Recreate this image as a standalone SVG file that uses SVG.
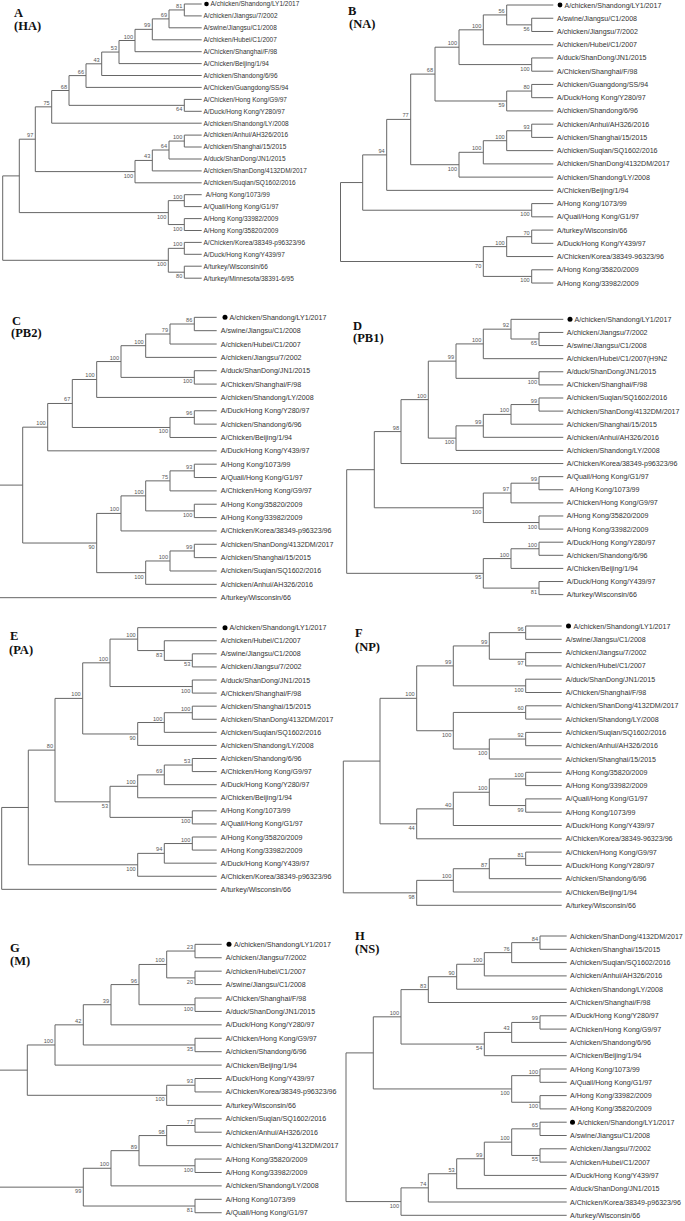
<svg xmlns="http://www.w3.org/2000/svg" width="685" height="1221" viewBox="0 0 685 1221">
<style>
.e path{fill:none;stroke:#666;stroke-width:1}
.t{font-family:"Liberation Sans",Arial,sans-serif;font-size:7.1px;fill:#333}
.ta{font-family:"Liberation Sans",Arial,sans-serif;font-size:6.5px;fill:#333}
.b{font-family:"Liberation Sans",Arial,sans-serif;font-size:5.6px;fill:#555;text-anchor:end}
.p{font-family:"Liberation Serif","Times New Roman",serif;font-weight:bold;font-size:12.5px;fill:#111}
.dot{fill:#000}
</style>
<defs>
<clipPath id="clipE"><rect x="0" y="700" width="333.5" height="40"/></clipPath>
</defs>
<rect width="685" height="1221" fill="#fff"/>

<!-- Panel A -->
<g id="panel-A">
<text class="p" x="14" y="17">A</text><text class="p" x="14" y="30">(HA)</text>
<g id="A-edges" class="e">
<path d="M201.7 4 H184.3 V15.9 H201.7"/>
<path d="M184.3 9.95 H169 V27.8 H201.7"/>
<path d="M169 18.9 H152.3 V39.8 H201.7"/>
<path d="M152.3 29.35 H135 V51.7 H201.7"/>
<path d="M135 40.5 H119 V63.6 H201.7"/>
<path d="M119 52.05 H101.7 V75.5 H201.7"/>
<path d="M101.7 63.8 H86 V87.4 H201.7"/>
<path d="M201.7 99.4 H184.3 V111.3 H201.7"/>
<path d="M86 75.6 H69 V105.35 H184.3"/>
<path d="M69 90.5 H51.7 V123.2 H201.7"/>
<path d="M201.7 135.1 H184.3 V147 H201.7"/>
<path d="M184.3 141.05 H169 V159 H201.7"/>
<path d="M169 150 H152.3 V170.9 H201.7"/>
<path d="M152.3 160.45 H135 V182.8 H201.7"/>
<path d="M51.7 106.85 H35.3 V171.6 H135"/>
<path d="M201.7 194.7 H184.3 V206.6 H201.7"/>
<path d="M201.7 218.6 H184.3 V230.5 H201.7"/>
<path d="M184.3 200.65 H168.3 V224.55 H184.3"/>
<path d="M35.3 139.2 H19.3 V212.6 H168.3"/>
<path d="M201.7 242.4 H184.3 V254.3 H201.7"/>
<path d="M201.7 266.2 H184.3 V278.2 H201.7"/>
<path d="M184.3 248.35 H168.3 V272.2 H184.3"/>
<path d="M19.3 175.9 H2.7 V260.3 H168.3"/>
</g>
<g id="A-support">
<text class="b" x="182.3" y="7.95">81</text>
<text class="b" x="167" y="16.9">69</text>
<text class="b" x="150.3" y="27.35">99</text>
<text class="b" x="133" y="38.5">100</text>
<text class="b" x="117" y="50.05">53</text>
<text class="b" x="99.7" y="61.8">43</text>
<text class="b" x="84" y="73.6">66</text>
<text class="b" x="182.3" y="111.35">64</text>
<text class="b" x="67" y="88.5">68</text>
<text class="b" x="49.7" y="104.85">75</text>
<text class="b" x="182.3" y="139.05">100</text>
<text class="b" x="167" y="148">64</text>
<text class="b" x="150.3" y="158.45">43</text>
<text class="b" x="133" y="177.6">100</text>
<text class="b" x="33.3" y="137.2">97</text>
<text class="b" x="182.3" y="198.65">100</text>
<text class="b" x="182.3" y="230.55">100</text>
<text class="b" x="166.3" y="218.6">100</text>
<text class="b" x="182.3" y="246.35">100</text>
<text class="b" x="182.3" y="278.2">80</text>
<text class="b" x="166.3" y="266.3">100</text>
</g>
<g id="A-leaves">
<circle class="dot" cx="206.5" cy="4" r="2.3"/>
<text id="A-leaf-0" class="ta" x="210.5" y="6.3">A/chicken/Shandong/LY1/2017</text>
<text id="A-leaf-1" class="ta" x="203.5" y="18.2">A/chicken/Jiangsu/7/2002</text>
<text id="A-leaf-2" class="ta" x="203.5" y="30.1">A/swine/Jiangsu/C1/2008</text>
<text id="A-leaf-3" class="ta" x="203.5" y="42.1">A/chicken/Hubei/C1/2007</text>
<text id="A-leaf-4" class="ta" x="203.5" y="54">A/Chicken/Shanghai/F/98</text>
<text id="A-leaf-5" class="ta" x="203.5" y="65.9">A/Chicken/Beijing/1/94</text>
<text id="A-leaf-6" class="ta" x="203.5" y="77.8">A/chicken/Shandong/6/96</text>
<text id="A-leaf-7" class="ta" x="203.5" y="89.7">A/Chicken/Guangdong/SS/94</text>
<text id="A-leaf-8" class="ta" x="203.5" y="101.7">A/Chicken/Hong Kong/G9/97</text>
<text id="A-leaf-9" class="ta" x="203.5" y="113.6">A/Duck/Hong Kong/Y280/97</text>
<text id="A-leaf-10" class="ta" x="203.5" y="125.5">A/chicken/Shandong/LY/2008</text>
<text id="A-leaf-11" class="ta" x="203.5" y="137.4">A/chicken/Anhui/AH326/2016</text>
<text id="A-leaf-12" class="ta" x="203.5" y="149.3">A/chicken/Shanghai/15/2015</text>
<text id="A-leaf-13" class="ta" x="203.5" y="161.3">A/duck/ShanDong/JN1/2015</text>
<text id="A-leaf-14" class="ta" x="203.5" y="173.2">A/chicken/ShanDong/4132DM/2017</text>
<text id="A-leaf-15" class="ta" x="203.5" y="185.1">A/chicken/Suqian/SQ1602/2016</text>
<text id="A-leaf-16" class="ta" x="205.8" y="197">A/Hong Kong/1073/99</text>
<text id="A-leaf-17" class="ta" x="203.5" y="208.9">A/Quail/Hong Kong/G1/97</text>
<text id="A-leaf-18" class="ta" x="203.5" y="220.9">A/Hong Kong/33982/2009</text>
<text id="A-leaf-19" class="ta" x="203.5" y="232.8">A/Hong Kong/35820/2009</text>
<text id="A-leaf-20" class="ta" x="203.5" y="244.7">A/Chicken/Korea/38349-p96323/96</text>
<text id="A-leaf-21" class="ta" x="203.5" y="256.6">A/Duck/Hong Kong/Y439/97</text>
<text id="A-leaf-22" class="ta" x="203.5" y="268.5">A/turkey/Wisconsin/66</text>
<text id="A-leaf-23" class="ta" x="203.5" y="280.5">A/turkey/Minnesota/38391-6/95</text>
</g>
</g>

<!-- Panel B -->
<g id="panel-B">
<text class="p" x="348" y="15">B</text><text class="p" x="349" y="27.5">(NA)</text>
<g id="B-edges" class="e">
<path d="M553.3 18.24 H531.7 V31.48 H553.3"/>
<path d="M553.3 5 H506.7 V24.86 H531.7"/>
<path d="M506.7 14.93 H483.3 V44.72 H553.3"/>
<path d="M553.3 57.96 H531.7 V71.2 H553.3"/>
<path d="M483.3 29.83 H459 V64.58 H531.7"/>
<path d="M553.3 84.44 H531.7 V97.68 H553.3"/>
<path d="M531.7 91.06 H506.7 V110.92 H553.3"/>
<path d="M459 47.2 H435 V100.99 H506.7"/>
<path d="M553.3 124.16 H531.7 V137.4 H553.3"/>
<path d="M531.7 130.78 H506.7 V150.64 H553.3"/>
<path d="M506.7 140.71 H483.3 V163.88 H553.3"/>
<path d="M483.3 152.3 H459 V177.12 H553.3"/>
<path d="M435 74.1 H410.7 V164.71 H459"/>
<path d="M410.7 119.4 H386.7 V190.36 H553.3"/>
<path d="M553.3 203.6 H531.7 V216.84 H553.3"/>
<path d="M386.7 154.88 H362.7 V210.22 H531.7"/>
<path d="M553.3 230.08 H531.7 V243.32 H553.3"/>
<path d="M531.7 236.7 H506.7 V256.56 H553.3"/>
<path d="M553.3 269.8 H531.7 V283.04 H553.3"/>
<path d="M506.7 246.63 H483.3 V276.42 H531.7"/>
<path d="M362.7 182.55 H340.5 V261.5 H483.3"/>
</g>
<g id="B-support">
<text class="b" x="504.7" y="12.93">56</text>
<text class="b" x="529.7" y="30.86">56</text>
<text class="b" x="481.3" y="27.83">100</text>
<text class="b" x="529.7" y="70.58">100</text>
<text class="b" x="457" y="45.2">100</text>
<text class="b" x="529.7" y="89.06">80</text>
<text class="b" x="504.7" y="106.99">59</text>
<text class="b" x="433" y="72.1">68</text>
<text class="b" x="529.7" y="128.78">93</text>
<text class="b" x="504.7" y="138.71">100</text>
<text class="b" x="481.3" y="150.3">100</text>
<text class="b" x="457" y="170.71">100</text>
<text class="b" x="408.7" y="117.4">77</text>
<text class="b" x="384.7" y="152.88">94</text>
<text class="b" x="529.7" y="216.22">100</text>
<text class="b" x="529.7" y="234.7">70</text>
<text class="b" x="504.7" y="244.63">100</text>
<text class="b" x="529.7" y="282.42">100</text>
<text class="b" x="481.3" y="267.5">70</text>
</g>
<g id="B-leaves">
<circle class="dot" cx="560" cy="5" r="2.4"/>
<text id="B-leaf-0" class="t" x="564.5" y="7.5">A/chicken/Shandong/LY1/2017</text>
<text id="B-leaf-1" class="t" x="557" y="20.74">A/swine/Jiangsu/C1/2008</text>
<text id="B-leaf-2" class="t" x="557" y="33.98">A/chicken/Jiangsu/7/2002</text>
<text id="B-leaf-3" class="t" x="557" y="47.22">A/chicken/Hubei/C1/2007</text>
<text id="B-leaf-4" class="t" x="557" y="60.46">A/duck/ShanDong/JN1/2015</text>
<text id="B-leaf-5" class="t" x="557" y="73.7">A/Chicken/Shanghai/F/98</text>
<text id="B-leaf-6" class="t" x="557" y="86.94">A/chicken/Guangdong/SS/94</text>
<text id="B-leaf-7" class="t" x="557" y="100.18">A/Duck/Hong Kong/Y280/97</text>
<text id="B-leaf-8" class="t" x="557" y="113.42">A/chicken/Shandong/6/96</text>
<text id="B-leaf-9" class="t" x="557" y="126.66">A/chicken/Anhui/AH326/2016</text>
<text id="B-leaf-10" class="t" x="557" y="139.9">A/chicken/Shanghai/15/2015</text>
<text id="B-leaf-11" class="t" x="557" y="153.14">A/chicken/Suqian/SQ1602/2016</text>
<text id="B-leaf-12" class="t" x="557" y="166.38">A/chicken/ShanDong/4132DM/2017</text>
<text id="B-leaf-13" class="t" x="557" y="179.62">A/chicken/Shandong/LY/2008</text>
<text id="B-leaf-14" class="t" x="557" y="192.86">A/Chicken/Beijing/1/94</text>
<text id="B-leaf-15" class="t" x="557" y="206.1">A/Hong Kong/1073/99</text>
<text id="B-leaf-16" class="t" x="557" y="219.34">A/Quail/Hong Kong/G1/97</text>
<text id="B-leaf-17" class="t" x="557" y="232.58">A/turkey/Wisconsin/66</text>
<text id="B-leaf-18" class="t" x="557" y="245.82">A/Duck/Hong Kong/Y439/97</text>
<text id="B-leaf-19" class="t" x="557" y="259.06">A/Chicken/Korea/38349-96323/96</text>
<text id="B-leaf-20" class="t" x="557" y="272.3">A/Hong Kong/35820/2009</text>
<text id="B-leaf-21" class="t" x="557" y="285.54">A/Hong Kong/33982/2009</text>
</g>
</g>

<!-- Panel C -->
<g id="panel-C">
<text class="p" x="12" y="325">C</text><text class="p" x="11" y="337">(PB2)</text>
<g id="C-edges" class="e">
<path d="M216.7 317.33 H194.3 V330.68 H216.7"/>
<path d="M194.3 324 H170 V344.03 H216.7"/>
<path d="M170 334.02 H145.7 V357.38 H216.7"/>
<path d="M216.7 370.73 H194.3 V384.08 H216.7"/>
<path d="M145.7 345.7 H121 V377.4 H194.3"/>
<path d="M121 361.55 H96.7 V397.43 H216.7"/>
<path d="M216.7 410.78 H194.3 V424.13 H216.7"/>
<path d="M194.3 417.45 H170 V437.48 H216.7"/>
<path d="M96.7 379.49 H72.3 V427.47 H170"/>
<path d="M72.3 403.48 H47.7 V450.83 H216.7"/>
<path d="M216.7 464.18 H194.3 V477.53 H216.7"/>
<path d="M194.3 470.86 H170 V490.88 H216.7"/>
<path d="M216.7 504.23 H194.3 V517.58 H216.7"/>
<path d="M170 480.87 H145.7 V510.9 H194.3"/>
<path d="M145.7 495.89 H121 V530.93 H216.7"/>
<path d="M216.7 544.28 H194.3 V557.63 H216.7"/>
<path d="M194.3 550.96 H170 V570.98 H216.7"/>
<path d="M170 560.97 H145.7 V584.33 H216.7"/>
<path d="M121 513.41 H96.7 V572.65 H145.7"/>
<path d="M47.7 427.16 H22.7 V543.03 H96.7"/>
<path d="M22.7 485.1 H0"/>
<path d="M0 597.68 H216.7"/>
</g>
<g id="C-support">
<text class="b" x="192.3" y="322">86</text>
<text class="b" x="168" y="332.02">79</text>
<text class="b" x="143.7" y="343.7">100</text>
<text class="b" x="192.3" y="383.4">100</text>
<text class="b" x="119" y="359.55">100</text>
<text class="b" x="94.7" y="377.49">100</text>
<text class="b" x="192.3" y="415.45">96</text>
<text class="b" x="168" y="433.47">100</text>
<text class="b" x="70.3" y="401.48">67</text>
<text class="b" x="45.7" y="425.16">100</text>
<text class="b" x="192.3" y="468.86">93</text>
<text class="b" x="168" y="478.87">75</text>
<text class="b" x="192.3" y="516.9">100</text>
<text class="b" x="143.7" y="493.89">100</text>
<text class="b" x="119" y="511.41">100</text>
<text class="b" x="192.3" y="548.96">99</text>
<text class="b" x="168" y="558.97">100</text>
<text class="b" x="143.7" y="578.65">100</text>
<text class="b" x="94.7" y="549.03">90</text>
</g>
<g id="C-leaves">
<circle class="dot" cx="225" cy="317.33" r="2.5"/>
<text id="C-leaf-0" class="t" x="229.5" y="319.83">A/chicken/Shandong/LY1/2017</text>
<text id="C-leaf-1" class="t" x="220.7" y="333.18">A/swine/Jiangsu/C1/2008</text>
<text id="C-leaf-2" class="t" x="220.7" y="346.53">A/chicken/Hubei/C1/2007</text>
<text id="C-leaf-3" class="t" x="220.7" y="359.88">A/chicken/Jiangsu/7/2002</text>
<text id="C-leaf-4" class="t" x="220.7" y="373.23">A/duck/ShanDong/JN1/2015</text>
<text id="C-leaf-5" class="t" x="220.7" y="386.58">A/Chicken/Shanghai/F/98</text>
<text id="C-leaf-6" class="t" x="220.7" y="399.93">A/chicken/Shandong/LY/2008</text>
<text id="C-leaf-7" class="t" x="220.7" y="413.28">A/Duck/Hong Kong/Y280/97</text>
<text id="C-leaf-8" class="t" x="220.7" y="426.63">A/chicken/Shandong/6/96</text>
<text id="C-leaf-9" class="t" x="220.7" y="439.98">A/Chicken/Beijing/1/94</text>
<text id="C-leaf-10" class="t" x="220.7" y="453.33">A/Duck/Hong Kong/Y439/97</text>
<text id="C-leaf-11" class="t" x="220.7" y="466.68">A/Hong Kong/1073/99</text>
<text id="C-leaf-12" class="t" x="220.7" y="480.03">A/Quail/Hong Kong/G1/97</text>
<text id="C-leaf-13" class="t" x="220.7" y="493.38">A/Chicken/Hong Kong/G9/97</text>
<text id="C-leaf-14" class="t" x="220.7" y="506.73">A/Hong Kong/35820/2009</text>
<text id="C-leaf-15" class="t" x="220.7" y="520.08">A/Hong Kong/33982/2009</text>
<text id="C-leaf-16" class="t" x="220.7" y="533.43">A/Chicken/Korea/38349-p96323/96</text>
<text id="C-leaf-17" class="t" x="220.7" y="546.78">A/chicken/ShanDong/4132DM/2017</text>
<text id="C-leaf-18" class="t" x="220.7" y="560.13">A/chicken/Shanghai/15/2015</text>
<text id="C-leaf-19" class="t" x="220.7" y="573.48">A/chicken/Suqian/SQ1602/2016</text>
<text id="C-leaf-20" class="t" x="220.7" y="586.83">A/chicken/Anhui/AH326/2016</text>
<text id="C-leaf-21" class="t" x="220.7" y="600.18">A/turkey/Wisconsin/66</text>
</g>
</g>

<!-- Panel D -->
<g id="panel-D">
<text class="p" x="353" y="330">D</text><text class="p" x="353" y="342">(PB1)</text>
<g id="D-edges" class="e">
<path d="M563.3 332.44 H539 V345.55 H563.3"/>
<path d="M563.3 319.33 H511 V339 H539"/>
<path d="M511 329.17 H483.3 V358.66 H563.3"/>
<path d="M563.3 371.77 H539 V384.88 H563.3"/>
<path d="M483.3 343.92 H456 V378.33 H539"/>
<path d="M563.3 397.99 H539 V411.1 H563.3"/>
<path d="M539 404.55 H511 V424.21 H563.3"/>
<path d="M511 414.38 H483.3 V437.32 H563.3"/>
<path d="M483.3 425.85 H456 V450.43 H563.3"/>
<path d="M456 361.13 H428.3 V438.14 H456"/>
<path d="M428.3 399.64 H401 V463.54 H563.3"/>
<path d="M563.3 476.65 H539 V489.76 H563.3"/>
<path d="M539 483.2 H511 V502.87 H563.3"/>
<path d="M563.3 515.98 H539 V529.09 H563.3"/>
<path d="M511 493.04 H483.3 V522.54 H539"/>
<path d="M401 431.59 H374.3 V507.79 H483.3"/>
<path d="M563.3 542.2 H539 V555.31 H563.3"/>
<path d="M539 548.76 H511 V568.42 H563.3"/>
<path d="M563.3 581.53 H539 V594.64 H563.3"/>
<path d="M511 558.59 H483.3 V588.09 H539"/>
<path d="M374.3 469.69 H346.7 V573.34 H483.3"/>
</g>
<g id="D-support">
<text class="b" x="537" y="345">65</text>
<text class="b" x="509" y="327.17">92</text>
<text class="b" x="481.3" y="341.92">100</text>
<text class="b" x="537" y="384.33">100</text>
<text class="b" x="454" y="359.13">99</text>
<text class="b" x="537" y="402.55">99</text>
<text class="b" x="509" y="412.38">100</text>
<text class="b" x="481.3" y="423.85">99</text>
<text class="b" x="454" y="444.14">100</text>
<text class="b" x="426.3" y="397.64">100</text>
<text class="b" x="399" y="429.59">98</text>
<text class="b" x="537" y="481.2">99</text>
<text class="b" x="509" y="491.04">97</text>
<text class="b" x="537" y="528.54">100</text>
<text class="b" x="481.3" y="513.79">100</text>
<text class="b" x="537" y="546.76">100</text>
<text class="b" x="509" y="556.59">100</text>
<text class="b" x="537" y="594.09">81</text>
<text class="b" x="481.3" y="579.34">95</text>
</g>
<g id="D-leaves">
<circle class="dot" cx="570" cy="319.33" r="2.5"/>
<text id="D-leaf-0" class="t" x="574.5" y="321.83">A/chicken/Shandong/LY1/2017</text>
<text id="D-leaf-1" class="t" x="566.7" y="334.94">A/chicken/Jiangsu/7/2002</text>
<text id="D-leaf-2" class="t" x="566.7" y="348.05">A/swine/Jiangsu/C1/2008</text>
<text id="D-leaf-3" class="t" x="566.7" y="361.16">A/chicken/Hubei/C1/2007(H9N2</text>
<text id="D-leaf-4" class="t" x="566.7" y="374.27">A/duck/ShanDong/JN1/2015</text>
<text id="D-leaf-5" class="t" x="566.7" y="387.38">A/Chicken/Shanghai/F/98</text>
<text id="D-leaf-6" class="t" x="566.7" y="400.49">A/chicken/Suqian/SQ1602/2016</text>
<text id="D-leaf-7" class="t" x="566.7" y="413.6">A/chicken/ShanDong/4132DM/2017</text>
<text id="D-leaf-8" class="t" x="566.7" y="426.71">A/chicken/Shanghai/15/2015</text>
<text id="D-leaf-9" class="t" x="566.7" y="439.82">A/chicken/Anhui/AH326/2016</text>
<text id="D-leaf-10" class="t" x="566.7" y="452.93">A/chicken/Shandong/LY/2008</text>
<text id="D-leaf-11" class="t" x="566.7" y="466.04">A/Chicken/Korea/38349-p96323/96</text>
<text id="D-leaf-12" class="t" x="566.7" y="479.15">A/Quail/Hong Kong/G1/97</text>
<text id="D-leaf-13" class="t" x="569.7" y="492.26">A/Hong Kong/1073/99</text>
<text id="D-leaf-14" class="t" x="566.7" y="505.37">A/Chicken/Hong Kong/G9/97</text>
<text id="D-leaf-15" class="t" x="566.7" y="518.48">A/Hong Kong/35820/2009</text>
<text id="D-leaf-16" class="t" x="566.7" y="531.59">A/Hong Kong/33982/2009</text>
<text id="D-leaf-17" class="t" x="566.7" y="544.7">A/Duck/Hong Kong/Y280/97</text>
<text id="D-leaf-18" class="t" x="566.7" y="557.81">A/chicken/Shandong/6/96</text>
<text id="D-leaf-19" class="t" x="566.7" y="570.92">A/Chicken/Beijing/1/94</text>
<text id="D-leaf-20" class="t" x="566.7" y="584.03">A/Duck/Hong Kong/Y439/97</text>
<text id="D-leaf-21" class="t" x="566.7" y="597.14">A/turkey/Wisconsin/66</text>
</g>
</g>

<!-- Panel E -->
<g id="panel-E">
<text class="p" x="10" y="640">E</text><text class="p" x="9" y="654">(PA)</text>
<g id="E-edges" class="e">
<path d="M216.7 653.83 H192.3 V666.92 H216.7"/>
<path d="M216.7 640.75 H164.3 V660.38 H192.3"/>
<path d="M216.7 627.67 H137.7 V650.57 H164.3"/>
<path d="M216.7 680 H192.3 V693.08 H216.7"/>
<path d="M137.7 639.12 H110 V686.54 H192.3"/>
<path d="M216.7 706.17 H192.3 V719.25 H216.7"/>
<path d="M192.3 712.71 H164.3 V732.33 H216.7"/>
<path d="M164.3 722.52 H137.7 V745.42 H216.7"/>
<path d="M110 662.83 H82.7 V733.97 H137.7"/>
<path d="M216.7 758.5 H192.3 V771.58 H216.7"/>
<path d="M192.3 765.04 H164.3 V784.67 H216.7"/>
<path d="M164.3 774.86 H137.7 V797.75 H216.7"/>
<path d="M216.7 810.83 H192.3 V823.92 H216.7"/>
<path d="M137.7 786.3 H110 V817.38 H192.3"/>
<path d="M82.7 698.4 H55 V801.84 H110"/>
<path d="M216.7 837 H192.3 V850.08 H216.7"/>
<path d="M192.3 843.54 H164.3 V863.17 H216.7"/>
<path d="M164.3 853.36 H137.7 V876.25 H216.7"/>
<path d="M55 750.12 H28.3 V864.8 H137.7"/>
<path d="M28.3 807.46 H1.7 V889.33 H216.7"/>
</g>
<g id="E-support">
<text class="b" x="190.3" y="666.38">53</text>
<text class="b" x="162.3" y="656.57">83</text>
<text class="b" x="135.7" y="637.12">100</text>
<text class="b" x="190.3" y="692.54">100</text>
<text class="b" x="108" y="660.83">100</text>
<text class="b" x="190.3" y="710.71">100</text>
<text class="b" x="162.3" y="720.52">100</text>
<text class="b" x="135.7" y="739.97">90</text>
<text class="b" x="80.7" y="696.4">100</text>
<text class="b" x="190.3" y="763.04">53</text>
<text class="b" x="162.3" y="772.86">69</text>
<text class="b" x="135.7" y="784.3">100</text>
<text class="b" x="190.3" y="823.38">100</text>
<text class="b" x="108" y="807.84">53</text>
<text class="b" x="53" y="748.12">80</text>
<text class="b" x="190.3" y="841.54">100</text>
<text class="b" x="162.3" y="851.36">94</text>
<text class="b" x="135.7" y="870.8">100</text>
</g>
<g id="E-leaves">
<circle class="dot" cx="225" cy="627.67" r="2.5"/>
<text id="E-leaf-0" class="t" x="229.5" y="630.17">A/chicken/Shandong/LY1/2017</text>
<text id="E-leaf-1" class="t" x="220.7" y="643.25">A/chicken/Hubei/C1/2007</text>
<text id="E-leaf-2" class="t" x="220.7" y="656.33">A/swine/Jiangsu/C1/2008</text>
<text id="E-leaf-3" class="t" x="220.7" y="669.42">A/chicken/Jiangsu/7/2002</text>
<text id="E-leaf-4" class="t" x="220.7" y="682.5">A/duck/ShanDong/JN1/2015</text>
<text id="E-leaf-5" class="t" x="220.7" y="695.58">A/Chicken/Shanghai/F/98</text>
<text id="E-leaf-6" class="t" x="220.7" y="708.67">A/chicken/Shanghai/15/2015</text>
<text id="E-leaf-7" class="t" x="220.7" y="721.75" clip-path="url(#clipE)">A/chicken/ShanDong/4132DM/2017</text>
<text id="E-leaf-8" class="t" x="220.7" y="734.83">A/chicken/Suqian/SQ1602/2016</text>
<text id="E-leaf-9" class="t" x="220.7" y="747.92">A/chicken/Shandong/LY/2008</text>
<text id="E-leaf-10" class="t" x="220.7" y="761">A/chicken/Shandong/6/96</text>
<text id="E-leaf-11" class="t" x="220.7" y="774.08">A/Chicken/Hong Kong/G9/97</text>
<text id="E-leaf-12" class="t" x="220.7" y="787.17">A/Duck/Hong Kong/Y280/97</text>
<text id="E-leaf-13" class="t" x="220.7" y="800.25">A/Chicken/Beijing/1/94</text>
<text id="E-leaf-14" class="t" x="220.7" y="813.33">A/Hong Kong/1073/99</text>
<text id="E-leaf-15" class="t" x="220.7" y="826.42">A/Quail/Hong Kong/G1/97</text>
<text id="E-leaf-16" class="t" x="220.7" y="839.5">A/Hong Kong/35820/2009</text>
<text id="E-leaf-17" class="t" x="220.7" y="852.58">A/Hong Kong/33982/2009</text>
<text id="E-leaf-18" class="t" x="220.7" y="865.67">A/Duck/Hong Kong/Y439/97</text>
<text id="E-leaf-19" class="t" x="220.7" y="878.75">A/Chicken/Korea/38349-p96323/96</text>
<text id="E-leaf-20" class="t" x="220.7" y="891.83">A/turkey/Wisconsin/66</text>
</g>
</g>

<!-- Panel F -->
<g id="panel-F">
<text class="p" x="355" y="636.5">F</text><text class="p" x="355" y="651">(NP)</text>
<g id="F-edges" class="e">
<path d="M561.7 626 H525.7 V639.3 H561.7"/>
<path d="M561.7 652.6 H525.7 V665.9 H561.7"/>
<path d="M525.7 632.65 H489.3 V659.25 H525.7"/>
<path d="M561.7 679.2 H525.7 V692.5 H561.7"/>
<path d="M489.3 645.95 H453.3 V685.85 H525.7"/>
<path d="M561.7 705.8 H525.7 V719.1 H561.7"/>
<path d="M561.7 732.4 H525.7 V745.7 H561.7"/>
<path d="M525.7 739.05 H489.3 V759 H561.7"/>
<path d="M525.7 712.45 H453.3 V749.03 H489.3"/>
<path d="M453.3 665.9 H416.7 V730.74 H453.3"/>
<path d="M561.7 772.3 H525.7 V785.6 H561.7"/>
<path d="M561.7 798.9 H525.7 V812.2 H561.7"/>
<path d="M525.7 778.95 H489.3 V805.55 H525.7"/>
<path d="M489.3 792.25 H453.3 V825.5 H561.7"/>
<path d="M453.3 808.88 H416.7 V838.8 H561.7"/>
<path d="M416.7 698.32 H380 V823.84 H416.7"/>
<path d="M561.7 852.1 H525.7 V865.4 H561.7"/>
<path d="M525.7 858.75 H489.3 V878.7 H561.7"/>
<path d="M489.3 868.73 H453.3 V892 H561.7"/>
<path d="M453.3 880.36 H416.7 V905.3 H561.7"/>
<path d="M380 761.08 H343.3 V892.83 H416.7"/>
</g>
<g id="F-support">
<text class="b" x="523.7" y="630.65">96</text>
<text class="b" x="523.7" y="665.25">97</text>
<text class="b" x="487.3" y="643.95">99</text>
<text class="b" x="523.7" y="691.85">100</text>
<text class="b" x="451.3" y="663.9">99</text>
<text class="b" x="523.7" y="710.45">60</text>
<text class="b" x="523.7" y="737.05">92</text>
<text class="b" x="487.3" y="755.03">100</text>
<text class="b" x="451.3" y="736.74">100</text>
<text class="b" x="414.7" y="696.32">100</text>
<text class="b" x="523.7" y="776.95">100</text>
<text class="b" x="523.7" y="811.55">99</text>
<text class="b" x="487.3" y="790.25">100</text>
<text class="b" x="451.3" y="806.88">40</text>
<text class="b" x="414.7" y="829.84">44</text>
<text class="b" x="523.7" y="856.75">81</text>
<text class="b" x="487.3" y="866.73">87</text>
<text class="b" x="451.3" y="878.36">100</text>
<text class="b" x="414.7" y="898.83">98</text>
</g>
<g id="F-leaves">
<circle class="dot" cx="568.5" cy="626" r="2.5"/>
<text id="F-leaf-0" class="t" x="573.5" y="628.5">A/chicken/Shandong/LY1/2017</text>
<text id="F-leaf-1" class="t" x="565.7" y="641.8">A/swine/Jiangsu/C1/2008</text>
<text id="F-leaf-2" class="t" x="565.7" y="655.1">A/chicken/Jiangsu/7/2002</text>
<text id="F-leaf-3" class="t" x="565.7" y="668.4">A/chicken/Hubei/C1/2007</text>
<text id="F-leaf-4" class="t" x="565.7" y="681.7">A/duck/ShanDong/JN1/2015</text>
<text id="F-leaf-5" class="t" x="565.7" y="695">A/Chicken/Shanghai/F/98</text>
<text id="F-leaf-6" class="t" x="565.7" y="708.3">A/chicken/ShanDong/4132DM/2017</text>
<text id="F-leaf-7" class="t" x="565.7" y="721.6">A/chicken/Shandong/LY/2008</text>
<text id="F-leaf-8" class="t" x="565.7" y="734.9">A/chicken/Suqian/SQ1602/2016</text>
<text id="F-leaf-9" class="t" x="565.7" y="748.2">A/chicken/Anhui/AH326/2016</text>
<text id="F-leaf-10" class="t" x="565.7" y="761.5">A/chicken/Shanghai/15/2015</text>
<text id="F-leaf-11" class="t" x="565.7" y="774.8">A/Hong Kong/35820/2009</text>
<text id="F-leaf-12" class="t" x="565.7" y="788.1">A/Hong Kong/33982/2009</text>
<text id="F-leaf-13" class="t" x="565.7" y="801.4">A/Quail/Hong Kong/G1/97</text>
<text id="F-leaf-14" class="t" x="565.7" y="814.7">A/Hong Kong/1073/99</text>
<text id="F-leaf-15" class="t" x="565.7" y="828">A/Duck/Hong Kong/Y439/97</text>
<text id="F-leaf-16" class="t" x="565.7" y="841.3">A/Chicken/Korea/38349-96323/96</text>
<text id="F-leaf-17" class="t" x="565.7" y="854.6">A/Chicken/Hong Kong/G9/97</text>
<text id="F-leaf-18" class="t" x="565.7" y="867.9">A/Duck/Hong Kong/Y280/97</text>
<text id="F-leaf-19" class="t" x="565.7" y="881.2">A/chicken/Shandong/6/96</text>
<text id="F-leaf-20" class="t" x="565.7" y="894.5">A/Chicken/Beijing/1/94</text>
<text id="F-leaf-21" class="t" x="565.7" y="907.8">A/turkey/Wisconsin/66</text>
</g>
</g>

<!-- Panel G -->
<g id="panel-G">
<text class="p" x="10" y="951.5">G</text><text class="p" x="10" y="965">(M)</text>
<g id="G-edges" class="e">
<path d="M221.7 944.33 H195 V957.75 H221.7"/>
<path d="M221.7 971.17 H195 V984.59 H221.7"/>
<path d="M195 951.04 H166.7 V977.88 H195"/>
<path d="M221.7 998.01 H195 V1011.43 H221.7"/>
<path d="M166.7 964.46 H139 V1004.72 H195"/>
<path d="M139 984.59 H111 V1024.85 H221.7"/>
<path d="M221.7 1038.27 H195 V1051.69 H221.7"/>
<path d="M111 1004.72 H83.3 V1044.98 H195"/>
<path d="M83.3 1024.85 H55 V1065.11 H221.7"/>
<path d="M221.7 1078.53 H195 V1091.95 H221.7"/>
<path d="M195 1085.24 H166.7 V1105.37 H221.7"/>
<path d="M55 1044.98 H27.3 V1095.31 H166.7"/>
<path d="M221.7 1118.79 H195 V1132.21 H221.7"/>
<path d="M195 1125.5 H166.7 V1145.63 H221.7"/>
<path d="M221.7 1159.05 H195 V1172.47 H221.7"/>
<path d="M166.7 1135.57 H139 V1165.76 H195"/>
<path d="M139 1150.66 H111 V1185.89 H221.7"/>
<path d="M221.7 1199.31 H195 V1212.73 H221.7"/>
<path d="M111 1168.28 H83.3 V1206.02 H195"/>
<path d="M27.3 1070.14 H0"/>
<path d="M0 1187.15 H83.3"/>
</g>
<g id="G-support">
<text class="b" x="193" y="949.04">23</text>
<text class="b" x="193" y="983.88">20</text>
<text class="b" x="164.7" y="962.46">100</text>
<text class="b" x="193" y="1010.72">100</text>
<text class="b" x="137" y="982.59">96</text>
<text class="b" x="109" y="1002.72">39</text>
<text class="b" x="193" y="1050.98">35</text>
<text class="b" x="81.3" y="1022.85">42</text>
<text class="b" x="53" y="1042.98">100</text>
<text class="b" x="193" y="1083.24">93</text>
<text class="b" x="164.7" y="1101.31">100</text>
<text class="b" x="193" y="1123.5">77</text>
<text class="b" x="164.7" y="1133.57">98</text>
<text class="b" x="193" y="1171.76">100</text>
<text class="b" x="137" y="1148.66">89</text>
<text class="b" x="109" y="1166.28">100</text>
<text class="b" x="193" y="1212.02">81</text>
<text class="b" x="81.3" y="1193.15">99</text>
</g>
<g id="G-leaves">
<circle class="dot" cx="229" cy="944.33" r="2.5"/>
<text id="G-leaf-0" class="t" x="234" y="946.83">A/chicken/Shandong/LY1/2017</text>
<text id="G-leaf-1" class="t" x="225.7" y="960.25">A/chicken/Jiangsu/7/2002</text>
<text id="G-leaf-2" class="t" x="225.7" y="973.67">A/chicken/Hubei/C1/2007</text>
<text id="G-leaf-3" class="t" x="225.7" y="987.09">A/swine/Jiangsu/C1/2008</text>
<text id="G-leaf-4" class="t" x="225.7" y="1000.51">A/Chicken/Shanghai/F/98</text>
<text id="G-leaf-5" class="t" x="225.7" y="1013.93">A/duck/ShanDong/JN1/2015</text>
<text id="G-leaf-6" class="t" x="225.7" y="1027.35">A/Duck/Hong Kong/Y280/97</text>
<text id="G-leaf-7" class="t" x="225.7" y="1040.77">A/Chicken/Hong Kong/G9/97</text>
<text id="G-leaf-8" class="t" x="225.7" y="1054.19">A/chicken/Shandong/6/96</text>
<text id="G-leaf-9" class="t" x="225.7" y="1067.61">A/Chicken/Beijing/1/94</text>
<text id="G-leaf-10" class="t" x="225.7" y="1081.03">A/Duck/Hong Kong/Y439/97</text>
<text id="G-leaf-11" class="t" x="225.7" y="1094.45">A/Chicken/Korea/38349-p96323/96</text>
<text id="G-leaf-12" class="t" x="225.7" y="1107.87">A/turkey/Wisconsin/66</text>
<text id="G-leaf-13" class="t" x="225.7" y="1121.29">A/chicken/Suqian/SQ1602/2016</text>
<text id="G-leaf-14" class="t" x="225.7" y="1134.71">A/chicken/Anhui/AH326/2016</text>
<text id="G-leaf-15" class="t" x="225.7" y="1148.13">A/chicken/ShanDong/4132DM/2017</text>
<text id="G-leaf-16" class="t" x="225.7" y="1161.55">A/Hong Kong/35820/2009</text>
<text id="G-leaf-17" class="t" x="225.7" y="1174.97">A/Hong Kong/33982/2009</text>
<text id="G-leaf-18" class="t" x="225.7" y="1188.39">A/chicken/Shandong/LY/2008</text>
<text id="G-leaf-19" class="t" x="225.7" y="1201.81">A/Hong Kong/1073/99</text>
<text id="G-leaf-20" class="t" x="225.7" y="1215.23">A/Quail/Hong Kong/G1/97</text>
</g>
</g>

<!-- Panel H -->
<g id="panel-H">
<text class="p" x="355" y="939.5">H</text><text class="p" x="355" y="952.5">(NS)</text>
<g id="H-edges" class="e">
<path d="M566.7 936 H540 V949.3 H566.7"/>
<path d="M540 942.65 H511.7 V962.6 H566.7"/>
<path d="M511.7 952.63 H484.3 V975.9 H566.7"/>
<path d="M484.3 964.26 H456.7 V989.2 H566.7"/>
<path d="M456.7 976.73 H428.3 V1002.5 H566.7"/>
<path d="M566.7 1015.8 H540 V1029.1 H566.7"/>
<path d="M540 1022.45 H511.7 V1042.4 H566.7"/>
<path d="M511.7 1032.43 H484.3 V1055.7 H566.7"/>
<path d="M428.3 989.62 H401 V1044.06 H484.3"/>
<path d="M566.7 1069 H540 V1082.3 H566.7"/>
<path d="M566.7 1095.6 H540 V1108.9 H566.7"/>
<path d="M540 1075.65 H511.7 V1102.25 H540"/>
<path d="M401 1016.84 H373.3 V1088.95 H511.7"/>
<path d="M566.7 1122.2 H540 V1135.5 H566.7"/>
<path d="M566.7 1148.8 H540 V1162.1 H566.7"/>
<path d="M540 1128.85 H511.7 V1155.45 H540"/>
<path d="M511.7 1142.15 H484.3 V1175.4 H566.7"/>
<path d="M484.3 1158.78 H456.7 V1188.7 H566.7"/>
<path d="M456.7 1173.74 H428.3 V1202 H566.7"/>
<path d="M428.3 1187.87 H401 V1215.3 H566.7"/>
<path d="M373.3 1052.9 H346 V1201.58 H401"/>
</g>
<g id="H-support">
<text class="b" x="538" y="940.65">84</text>
<text class="b" x="509.7" y="950.63">76</text>
<text class="b" x="482.3" y="962.26">100</text>
<text class="b" x="454.7" y="974.73">90</text>
<text class="b" x="426.3" y="987.62">83</text>
<text class="b" x="538" y="1020.45">99</text>
<text class="b" x="509.7" y="1030.43">43</text>
<text class="b" x="482.3" y="1050.06">54</text>
<text class="b" x="399" y="1014.84">100</text>
<text class="b" x="538" y="1073.65">100</text>
<text class="b" x="538" y="1108.25">100</text>
<text class="b" x="509.7" y="1094.95">100</text>
<text class="b" x="538" y="1126.85">65</text>
<text class="b" x="538" y="1161.45">55</text>
<text class="b" x="509.7" y="1140.15">100</text>
<text class="b" x="482.3" y="1156.78">99</text>
<text class="b" x="454.7" y="1171.74">53</text>
<text class="b" x="426.3" y="1185.87">74</text>
<text class="b" x="399" y="1207.58">100</text>
</g>
<g id="H-leaves">
<text id="H-leaf-0" class="t" x="570" y="938.5">A/chicken/ShanDong/4132DM/2017</text>
<text id="H-leaf-1" class="t" x="570" y="951.8">A/chicken/Shanghai/15/2015</text>
<text id="H-leaf-2" class="t" x="570" y="965.1">A/chicken/Suqian/SQ1602/2016</text>
<text id="H-leaf-3" class="t" x="570" y="978.4">A/chicken/Anhui/AH326/2016</text>
<text id="H-leaf-4" class="t" x="570" y="991.7">A/chicken/Shandong/LY/2008</text>
<text id="H-leaf-5" class="t" x="570" y="1005">A/Chicken/Shanghai/F/98</text>
<text id="H-leaf-6" class="t" x="570" y="1018.3">A/Duck/Hong Kong/Y280/97</text>
<text id="H-leaf-7" class="t" x="570" y="1031.6">A/Chicken/Hong Kong/G9/97</text>
<text id="H-leaf-8" class="t" x="570" y="1044.9">A/chicken/Shandong/6/96</text>
<text id="H-leaf-9" class="t" x="570" y="1058.2">A/Chicken/Beijing/1/94</text>
<text id="H-leaf-10" class="t" x="570" y="1071.5">A/Hong Kong/1073/99</text>
<text id="H-leaf-11" class="t" x="570" y="1084.8">A/Quail/Hong Kong/G1/97</text>
<text id="H-leaf-12" class="t" x="570" y="1098.1">A/Hong Kong/33982/2009</text>
<text id="H-leaf-13" class="t" x="570" y="1111.4">A/Hong Kong/35820/2009</text>
<circle class="dot" cx="572.5" cy="1122.2" r="2.5"/>
<text id="H-leaf-14" class="t" x="577.5" y="1124.7">A/chicken/Shandong/LY1/2017</text>
<text id="H-leaf-15" class="t" x="570" y="1138">A/swine/Jiangsu/C1/2008</text>
<text id="H-leaf-16" class="t" x="570" y="1151.3">A/chicken/Jiangsu/7/2002</text>
<text id="H-leaf-17" class="t" x="570" y="1164.6">A/chicken/Hubei/C1/2007</text>
<text id="H-leaf-18" class="t" x="570" y="1177.9">A/Duck/Hong Kong/Y439/97</text>
<text id="H-leaf-19" class="t" x="570" y="1191.2">A/duck/ShanDong/JN1/2015</text>
<text id="H-leaf-20" class="t" x="570" y="1204.5">A/Chicken/Korea/38349-p96323/96</text>
<text id="H-leaf-21" class="t" x="570" y="1217.8">A/turkey/Wisconsin/66</text>
</g>
</g>
</svg>
